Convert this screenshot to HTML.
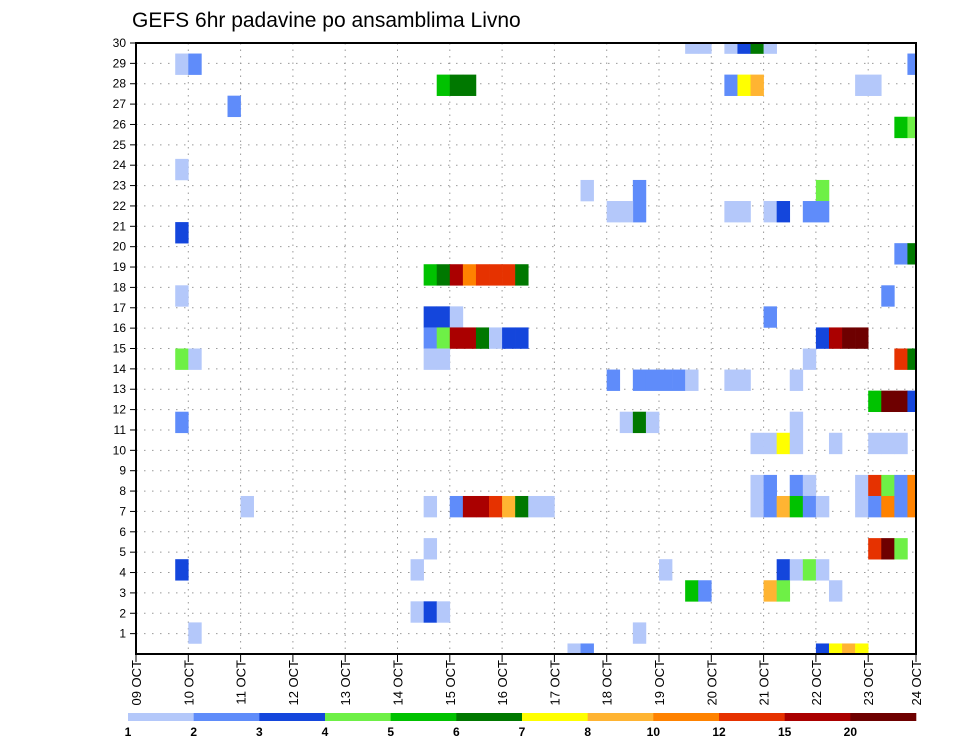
<!DOCTYPE html>
<html><head><meta charset="utf-8"><style>
html,body{margin:0;padding:0;background:#fff;width:960px;height:742px;overflow:hidden}
svg{display:block;font-family:"Liberation Sans",sans-serif}
</style></head><body>
<svg id="chart" width="960" height="742">
<text x="132" y="27" font-size="21" fill="#000">GEFS 6hr padavine po ansamblima Livno</text>
<g id="grid"></g><g id="cells"></g><g id="axes"></g><g id="legend"></g>
</svg>
<script>
const dayLabels=["09 OCT","10 OCT","11 OCT","12 OCT","13 OCT","14 OCT","15 OCT","16 OCT","17 OCT","18 OCT","19 OCT","20 OCT","21 OCT","22 OCT","23 OCT","24 OCT"];
const memberTicks=[1,2,3,4,5,6,7,8,9,10,11,12,13,14,15,16,17,18,19,20,21,22,23,24,25,26,27,28,29,30];
const levels=[1,2,3,4,5,6,7,8,10,12,15,20];
const levelLabels=["1","2","3","4","5","6","7","8","10","12","15","20"];
const levelColors=["#b4c8fa","#5f8cfa","#1446dc","#6ef046","#00c200","#007800","#ffff00","#ffb432","#ff8200","#e63200","#aa0000","#6e0000"];
const cellTimes=[3,4,7,3,3,3,3,4,3,8,3,4,
23,24,25,22,23,24,25,26,27,28,29,22,23,24,22,23,24,25,26,27,28,29,22,23,
22,24,25,26,27,28,29,30,31,22,21,21,22,23,
42,43,34,38,38,36,37,36,38,39,40,41,42,37,38,39,40,42,43,38,33,34,
45,46,47,48,59,45,46,47,55,56,58,59,52,45,46,48,49,51,52,58,59,57,48,52,53,54,55,51,58,59,45,46,50,56,57,58,59,50,
47,48,49,50,53,56,57,58,
47,48,50,51,55,56,57,58,59,
47,48,49,50,51,52,55,56,57,58,59,
56,57,58,49,50,51,52,48,49,53,52,53,54,55];
const cellMembers=[28,28,26,23,20,17,14,14,11,7,4,1,
27,27,27,18,18,18,18,18,18,18,18,16,16,16,15,15,15,15,15,15,15,15,14,14,
7,7,7,7,7,7,7,7,7,5,4,2,2,2,
29,29,22,22,21,21,21,13,13,13,13,13,13,11,11,11,4,3,3,1,0,0,
29,29,29,29,28,27,27,27,27,27,25,25,22,21,21,21,21,21,21,19,19,17,16,15,15,15,15,14,14,14,13,13,13,12,12,12,12,11,
10,10,10,10,10,10,10,10,
8,8,8,8,8,8,8,8,8,
7,7,7,7,7,7,7,7,7,7,7,
5,5,5,4,4,4,4,3,3,3,0,0,0,0];
const cellValues=[1.5,2.5,2.5,1.5,3.5,1.5,4.5,1.5,2.5,1.5,3.5,1.5,
5.5,6.5,6.5,5.5,6.5,17,11,13,13,13,6.5,3.5,3.5,1.5,2.5,4.5,17,17,6.5,1.5,3.5,3.5,1.5,1.5,
1.5,2.5,17,17,13,9,6.5,1.5,1.5,1.5,1.5,1.5,3.5,1.5,
1.5,1.5,1.5,2.5,2.5,1.5,1.5,2.5,2.5,2.5,2.5,2.5,1.5,1.5,6.5,1.5,1.5,5.5,2.5,1.5,1.5,2.5,
1.5,3.5,6.5,1.5,2.5,2.5,7.5,9,1.5,1.5,5.5,4.5,4.5,1.5,1.5,1.5,3.5,2.5,2.5,2.5,6.5,2.5,2.5,3.5,17,25,25,1.5,13,6.5,1.5,1.5,1.5,5.5,25,25,3.5,1.5,
1.5,1.5,7.5,1.5,1.5,1.5,1.5,1.5,
1.5,2.5,2.5,1.5,1.5,13,4.5,2.5,11,
1.5,2.5,9,5.5,2.5,1.5,1.5,2.5,11,2.5,11,
13,25,4.5,3.5,1.5,4.5,1.5,9,4.5,1.5,3.5,7.5,9,7.5];

const NS="http://www.w3.org/2000/svg";
const L=136,R=916,T=43,B=654,DAY=52.3,CELLW=DAY/4,ROWH=(B-T)/29,TICKH=(B-T)/30;
function xDay(d){return L+d*DAY;}
function xStep(k){return L+k*CELLW;}
function yTick(r){return B-r*TICKH;}
function yMember(m){return B-m*ROWH;}
function colorFor(v){let i=0;for(let j=0;j<levels.length;j++){if(v>=levels[j])i=j;}return levelColors[i];}
function mk(tag,attrs,parent){const e=document.createElementNS(NS,tag);for(const k in attrs)e.setAttribute(k,attrs[k]);parent.appendChild(e);return e;}

const grid=document.getElementById('grid'),cells=document.getElementById('cells'),axes=document.getElementById('axes'),legend=document.getElementById('legend');
const svg=document.getElementById('chart');
const defs=mk('defs',{},svg);
const cp=mk('clipPath',{id:'plotclip'},defs);
mk('rect',{x:L,y:T,width:R-L,height:B-T},cp);
cells.setAttribute('clip-path','url(#plotclip)');

for(let r=1;r<30;r++){
  const ln=mk('line',{x1:L,x2:R,y1:yTick(r),y2:yTick(r),stroke:'#999','stroke-width':1,'stroke-dasharray':'1.5,6.5'},grid);
  
  
}
for(let d=1;d<dayLabels.length-1;d++){
  const ln=mk('line',{x1:xDay(d),x2:xDay(d),y1:T,y2:B,stroke:'#999','stroke-width':1,'stroke-dasharray':'1.5,5'},grid);
  
  
}
for(let i=0;i<cellTimes.length;i++){
  const y=yMember(cellMembers[i]);
  const c=mk('rect',{x:xStep(cellTimes[i]),y:y-ROWH/2,width:CELLW+0.3,height:ROWH+0.3,fill:colorFor(cellValues[i])},cells);
  
  
}
const frame=mk('rect',{x:L,y:T,width:R-L,height:B-T,fill:'none',stroke:'#000','stroke-width':2},axes);


memberTicks.forEach(r=>{
  const t=mk('text',{x:L-10,y:yTick(r)+4,'font-size':12,'text-anchor':'end',fill:'#000'},axes);
  t.textContent=r;
  
  
  mk('line',{x1:L-6,x2:L,y1:yTick(r),y2:yTick(r),stroke:'#000','stroke-width':1},axes);
});
dayLabels.forEach((lab,d)=>{
  const x=Math.min(xDay(d),R);
  mk('line',{x1:x,x2:x,y1:B,y2:B+8,stroke:'#000','stroke-width':1},axes);
  const t=mk('text',{x:0,y:0,'font-size':13,'text-anchor':'end',fill:'#000',transform:'translate('+(x+5)+','+(B+6)+') rotate(-90)'},axes);
  t.textContent=lab;
  
  
});
const LL=128,LR=916,segW=(LR-LL)/levels.length;
levelColors.forEach((c,i)=>{
  const s=mk('rect',{x:LL+i*segW,y:713,width:segW+0.3,height:8,fill:c},legend);
  
  
  const t=mk('text',{x:LL+i*segW,y:736,'font-size':12,'font-weight':'bold','text-anchor':'middle',fill:'#000'},legend);
  t.textContent=levelLabels[i];
  
  
});
</script>
</body></html>
